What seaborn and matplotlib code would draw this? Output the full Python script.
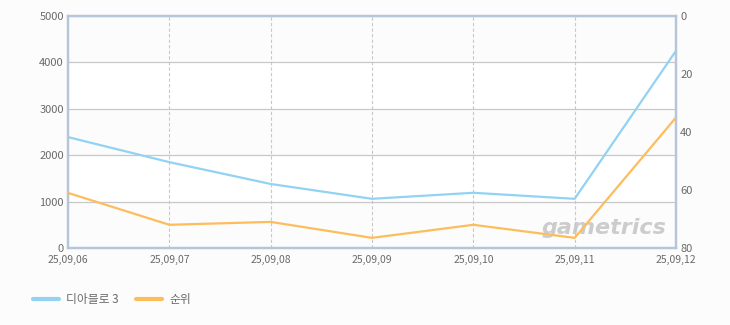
import matplotlib
matplotlib.use("Agg")
import matplotlib.pyplot as plt
import seaborn as sns
import pandas as pd
from matplotlib.lines import Line2D

sns.set_theme(style="white")
plt.rcParams['font.family'] = ['Noto Sans CJK KR', 'DejaVu Sans']

dates = ["25,09,06", "25,09,07", "25,09,08", "25,09,09", "25,09,10", "25,09,11", "25,09,12"]
viewers = [2390, 1850, 1380, 1060, 1190, 1060, 4250]
rank = [61, 72, 71, 76.5, 72, 76.5, 35]
series_names = ["디아블로 3", "순위"]

df = pd.DataFrame({"idx": range(len(dates)), "viewers": viewers, "rank": rank})

blue = "#92d2f2"
orange = "#fcbd5c"
spine_c = "#b4c6d8"
text_c = "#6a6a6a"

fig = plt.figure(figsize=(7.3, 3.25), dpi=100)
fig.patch.set_facecolor("#fcfcfc")
ax = fig.add_axes([68/730, 77/325, 608/730, 232/325])
ax.set_facecolor("#fcfcfc")
for lo in (1000, 3000):
    ax.axhspan(lo, lo + 1000, color="white", zorder=0)

sns.lineplot(data=df, x="idx", y="viewers", ax=ax, color=blue, linewidth=1.6, zorder=3)
ax.set_xlim(0, len(dates) - 1)
ax.set_ylim(0, 5000)
ax.set_yticks(range(0, 5001, 1000))
ax.set_xticks(range(len(dates)))
ax.set_xticklabels(dates)
ax.set_xlabel("")
ax.set_ylabel("")
ax.yaxis.grid(True, color="#c8c8c8", linewidth=0.9, linestyle="-")
ax.xaxis.grid(True, color="#c8c8c8", linewidth=0.8, linestyle=(0, (3, 2)))
ax.set_axisbelow(True)
ax.tick_params(axis="x", labelsize=7.5, colors=text_c, length=0, pad=5)
ax.tick_params(axis="y", labelsize=8, colors=text_c, length=0, pad=3)

ax2 = ax.twinx()
sns.lineplot(data=df, x="idx", y="rank", ax=ax2, color=orange, linewidth=1.6, zorder=3)
ax2.set_ylim(80, 0)
ax2.set_yticks(range(0, 81, 20))
ax2.set_ylabel("")
ax2.tick_params(axis="y", labelsize=8, colors=text_c, length=0, pad=3)
ax2.grid(False)

for a in (ax, ax2):
    for s in a.spines.values():
        s.set_color(spine_c)
        s.set_linewidth(1.6)
        s.set_visible(True)

ax.text(0.985, 0.085, "gametrics", transform=ax.transAxes, ha="right", va="center",
        fontsize=16, fontstyle="italic", fontweight="bold", color="#c4c4c4",
        family="DejaVu Sans", alpha=0.85, zorder=5)

handles = [Line2D([0], [0], color=blue, linewidth=3), Line2D([0], [0], color=orange, linewidth=3)]
fig.legend(handles, series_names, loc="center left", bbox_to_anchor=(22/730, 1 - 300/325),
           ncol=2, frameon=False, fontsize=8.5, handlelength=2.2, columnspacing=1.5,
           handletextpad=0.6, labelcolor=text_c)

fig.savefig("out.png", dpi=100, facecolor=fig.get_facecolor())
